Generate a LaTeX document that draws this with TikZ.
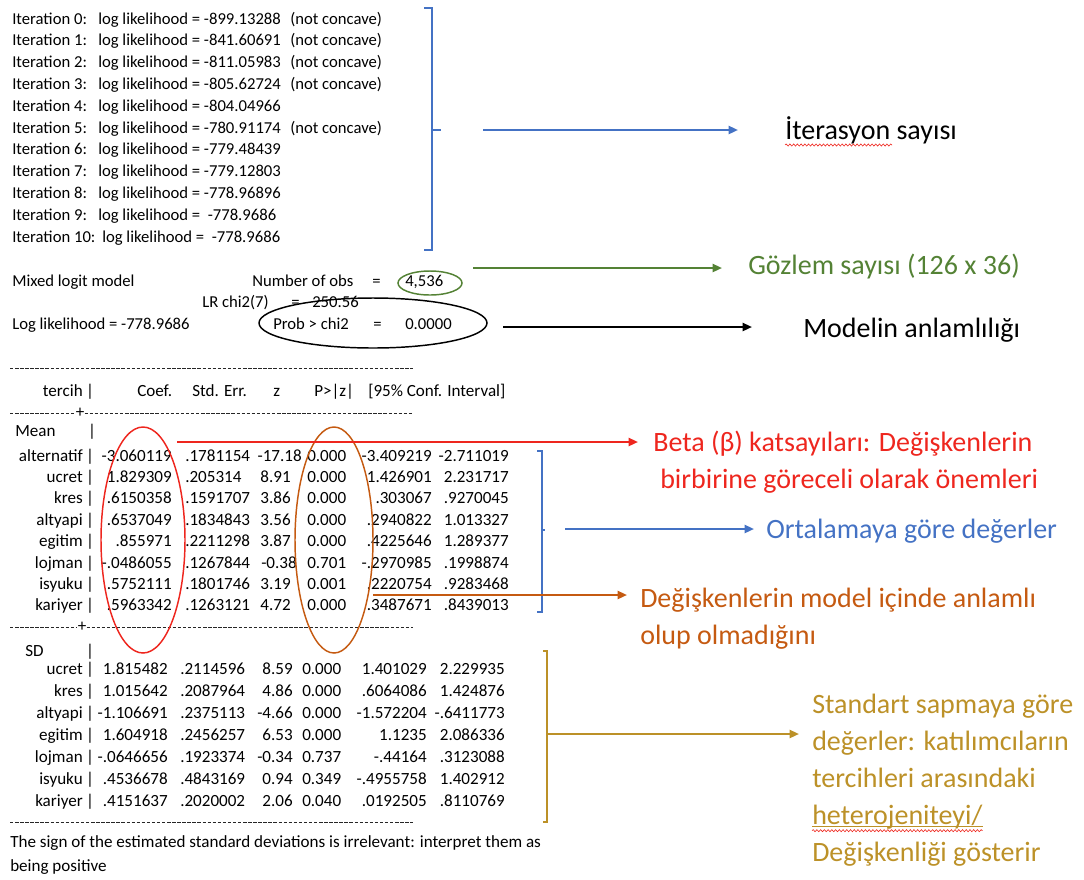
\documentclass[tikz,border=0pt]{standalone}
\usepackage{fontspec}
\setmainfont{Carlito}
\usetikzlibrary{arrows.meta}
\usetikzlibrary{decorations.pathmorphing}

\definecolor{ublue}{RGB}{68,114,196}
\definecolor{ugreen}{RGB}{84,130,53}
\definecolor{ured}{RGB}{238,38,30}
\definecolor{ubrown}{RGB}{197,90,17}
\definecolor{ugold}{RGB}{188,145,40}

\begin{document}
\begin{tikzpicture}[x=0.75pt,y=-0.75pt]
\useasboundingbox (0,0) rectangle (1084,879);

		% iterations and model summary
		\begin{scope}[every node/.style={inner sep=0pt,anchor=west,text height=9pt,text depth=3pt,
					  font=\fontsize{12.5}{15}\selectfont}]
			\foreach \i/\lv/\nc in {0/-899.13288/1,1/-841.60691/1,2/-811.05983/1,3/-805.62724/1,
					4/-804.04966/0,5/-780.91174/1,6/-779.48439/0,7/-779.12803/0,8/-778.96896/0,
					9/\ -778.9686/0,10/\ -778.9686/0}{
				\pgfmathsetmacro\lx{\i==10 ? 102 : 98}
				\node (it\i) at (12,{20+21.8*\i}) {Iteration \i:};
				\node (ll\i) at (\lx,{20+21.8*\i}) {log likelihood = \lv};
				\ifnum\nc=1 \node (nc\i) at (290,{20+21.8*\i}) {(not concave)}; \fi
			}

			\node (mlm) at (12,282) {Mixed logit model};
			\node (nobs) at (252,282) {Number of obs};
			\node (nobseq) at (372,282) {=};
			\node (nobsv) at (405,282) {4,536};
			\node (lr) at (202,303) {LR chi2(7)};
			\node (lreq) at (291,303) {=};
			\node (lrv) at (312,303) {250.56};
			\node (llf) at (12,325) {Log likelihood = -778.9686};
			\node (prob) at (273,325) {Prob > chi2};
			\node (probeq) at (373,325) {=};
			\node (probv) at (405,325) {0.0000};
		\end{scope}

		% coefficient table
		\begin{scope}[every node/.style={inner sep=0pt,anchor=west,text height=9pt,text depth=3pt,
					  font=\fontsize{12.8}{15}\selectfont}]
			\node[anchor=east] (hd0) at (83,392) {tercih};
			\node[anchor=center] (hdb) at (90,392) {|};
			\node (hd1) at (137,392) {Coef.};
			\node (hd2) at (192,392) {Std. Err.};
			\node (hd3) at (273,392) {z};
			\node (hd4) at (314,392) {P>|z|};
			\node (hd5) at (368,392) {[95\% Conf. Interval]};
			\node[anchor=center] (plus1) at (80,413) {+};

			\node (mean) at (15,432) {Mean};
			\node[anchor=center] (meanb) at (92,432) {|};
			\foreach \nm/\xa/\xb/\xc/\xd/\xe/\xf [count=\r from 0] in {
					alternatif/-3.060119/.1781154/-17.18/0.000/-3.409219/-2.711019,
					ucret/1.829309/.205314/8.91/0.000/1.426901/2.231717,
					kres/.6150358/.1591707/3.86/0.000/.303067/.9270045,
					altyapi/.6537049/.1834843/3.56/0.000/.2940822/1.013327,
					egitim/.855971/.2211298/3.87/0.000/.4225646/1.289377,
					lojman/-.0486055/.1267844/-0.38/0.701/-.2970985/.1998874,
					isyuku/.5752111/.1801746/3.19/0.001/.2220754/.9283468,
					kariyer/.5963342/.1263121/4.72/0.000/.3487671/.8439013}{
				\pgfmathsetmacro\yy{457+21.4*\r}
				\pgfmathsetmacro\zx{\r==0 ? 302 : (\r==5 ? 297 : 291)}
				\node[anchor=east] (mn\r) at (83,\yy) {\nm};
				\node[anchor=center] (mb\r) at (90,\yy) {|};
				\node[anchor=east] (ma\r) at (172,\yy) {\xa};
				\node (mse\r) at (185,\yy) {\xb};
				\node[anchor=east] (mz\r) at (\zx,\yy) {\xc};
				\node (mp\r) at (307,\yy) {\xd};
				\node[anchor=east] (mlo\r) at (432,\yy) {\xe};
				\node[anchor=east] (mhi\r) at (509,\yy) {\xf};
			}

			\node[anchor=center] (plus2) at (82,627) {+};
			\node (sd) at (25,652) {SD};
			\node[anchor=center] (sdb) at (90,652) {|};
			\foreach \nm/\xa/\xb/\xc/\xd/\xe/\xf [count=\r from 0] in {
					ucret/1.815482/.2114596/8.59/0.000/1.401029/2.229935,
					kres/1.015642/.2087964/4.86/0.000/.6064086/1.424876,
					altyapi/-1.106691/.2375113/-4.66/0.000/-1.572204/-.6411773,
					egitim/1.604918/.2456257/6.53/0.000/1.1235/2.086336,
					lojman/-.0646656/.1923374/-0.34/0.737/-.44164/.3123088,
					isyuku/.4536678/.4843169/0.94/0.349/-.4955758/1.402912,
					kariyer/.4151637/.2020002/2.06/0.040/.0192505/.8110769}{
				\pgfmathsetmacro\yy{670+22*\r}
				\node[anchor=east] (sn\r) at (83,\yy) {\nm};
				\node[anchor=center] (sb\r) at (90,\yy) {|};
				\node[anchor=east] (sa\r) at (168,\yy) {\xa};
				\node (sse\r) at (180,\yy) {\xb};
				\node[anchor=east] (sz\r) at (293,\yy) {\xc};
				\node (sp\r) at (302,\yy) {\xd};
				\node[anchor=east] (slo\r) at (427,\yy) {\xe};
				\node[anchor=east] (shi\r) at (505,\yy) {\xf};
			}

			\node (foot1) at (10,843) {The sign of the estimated standard deviations is irrelevant: interpret them as};
			\node (foot2) at (10,867) {being positive};
		\end{scope}

		% dashed rules
		\begin{scope}[black!85,line width=0.6pt,dash pattern=on 2.6pt off 1.2pt]
			\draw (10,368) -- (413,368);
			\draw (10,413) -- (plus1.west) (plus1.east) -- (413,413);
			\draw (10,627) -- (plus2.west) (plus2.east) -- (413,627);
			\draw (10,822) -- (413,822);
		\end{scope}

		% annotations
		\begin{scope}[every node/.style={inner sep=0pt,anchor=base west,
					  font=\fontsize{21}{27.8}\selectfont}]
			\node (iter) at (785,139) {İterasyon sayısı};
			\node[ugreen] (gozlem) at (748,274) {Gözlem sayısı (126 x 36)};
			\node (anlam) at (803,337) {Modelin anlamlılığı};
			\node[ured] (beta1) at (653,451) {Beta (β) katsayıları: Değişkenlerin};
			\node[ured] (beta2) at (660,488) {birbirine göreceli olarak önemleri};
			\node[ublue] (ort) at (766,538) {Ortalamaya göre değerler};
			\node[ubrown] (onem1) at (640,607) {Değişkenlerin model içinde anlamlı};
			\node[ubrown] (onem2) at (640,644) {olup olmadığını};
			\node[ugold] (sap1) at (812,713) {Standart sapmaya göre};
			\node[ugold] (sap2) at (812,750) {değerler: katılımcıların};
			\node[ugold] (sap3) at (812,787) {tercihleri arasındaki};
			\node[ugold] (sap4) at (812,824) {heterojeniteyi/};
			\node[ugold] (sap5) at (812,861) {Değişkenliği gösterir};
		\end{scope}
		\tikzset{squiggle/.style={ured,line width=0.45pt,decorate,
				 decoration={snake,amplitude=0.8pt,segment length=2.8pt}}}
		\draw[squiggle] ([yshift=-4.5pt]iter.base west) -- ++(107,0);
		\draw[ugold,line width=0.8pt] ([yshift=-2.2pt]sap4.base west) -- ([yshift=-2.2pt]sap4.base east);
		\draw[squiggle] ([yshift=-5pt]sap4.base west) -- ([yshift=-5pt]sap4.base east);

		% ellipses
		\draw[ugreen,line width=1.1pt] (430,283) ellipse [x radius=32,y radius=12];
		\draw[black,line width=1.1pt] (373,323) ellipse [x radius=114,y radius=25];
		\draw[ured,line width=1.1pt] (143,540) ellipse [x radius=42,y radius=113];
		\draw[ubrown,line width=1.1pt] (334,540) ellipse [x radius=39,y radius=113];

		% brackets
		\draw[ublue,line width=2pt] (424,8) -- (432,8) -- (432,250) -- (424,250);
		\draw[ublue,line width=2pt] (432,130) -- (441,130);
		\draw[ublue,line width=2pt] (537,451) -- (542,451) -- (542,612) -- (537,612);
		\draw[ublue,line width=2pt] (542,530) -- (545,530);
		\draw[ugold,line width=2pt] (543,651) -- (547,651) -- (547,822) -- (543,822);

		% connectors
		\coordinate (a1) at (483,130);  \coordinate (b1) at (738,130);
		\coordinate (a2) at (473,268);  \coordinate (b2) at (722,268);
		\coordinate (a3) at (503,327);  \coordinate (b3) at (752,327);
		\coordinate (a4) at (177,442);  \coordinate (b4) at (638,442);
		\coordinate (a5) at (565,529);  \coordinate (b5) at (754,529);
		\coordinate (a6) at (373,595);  \coordinate (b6) at (627,595);
		\coordinate (a7) at (547,734);  \coordinate (b7) at (799,734);
		\begin{scope}[>={Triangle[length=7pt,width=6pt]},line width=1.6pt]
			\path [->] (a1) edge [ublue] (b1);
			\path [->] (a2) edge [ugreen] (b2);
			\path [->] (a3) edge [black] (b3);
			\path [->] (a4) edge [ured] (b4);
			\path [->] (a5) edge [ublue] (b5);
			\path [->] (a6) edge [ubrown] (b6);
			\path [->] (a7) edge [ugold] (b7);
		\end{scope}
\end{tikzpicture}
\end{document}
